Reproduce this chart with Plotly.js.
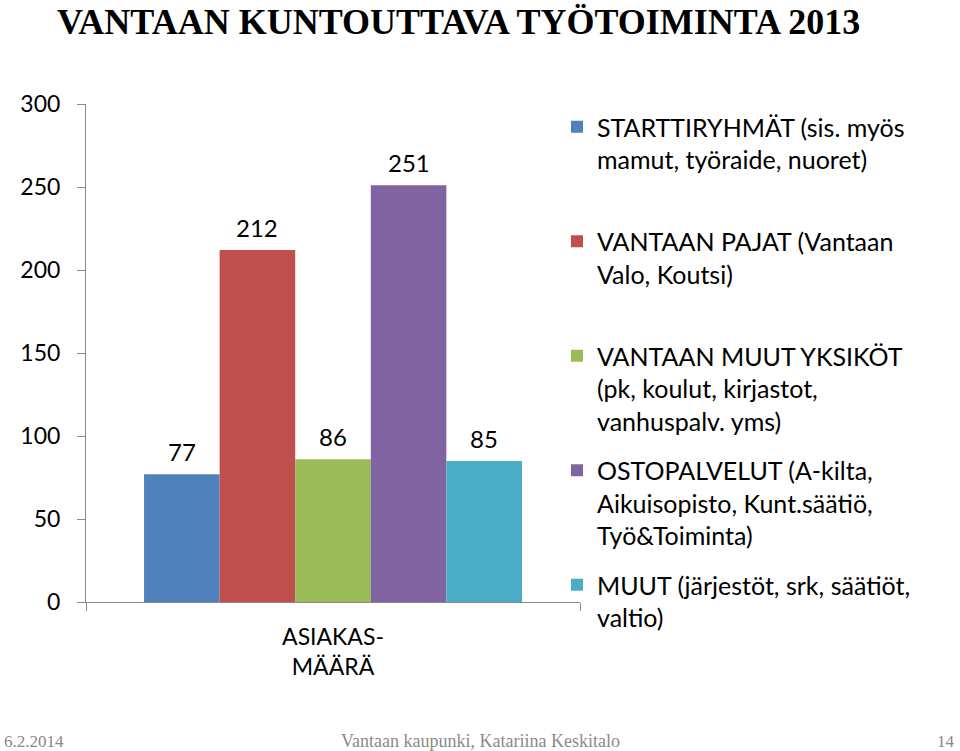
<!DOCTYPE html>
<html>
<head>
<meta charset="utf-8">
<script src="https://cdn.plot.ly/plotly-3.0.1.min.js"></script>
<style>html,body{margin:0;padding:0;background:#fff;}#chart{width:960px;height:751px;}</style>
</head>
<body>
<div id="chart"></div>
<script>
const categories = ["ASIAKAS-<br>MÄÄRÄ"];
const seriesNames = [
  "STARTTIRYHMÄT (sis. myös<br>mamut, työraide, nuoret)<br> ",
  "VANTAAN PAJAT (Vantaan<br>Valo, Koutsi)<br> ",
  "VANTAAN MUUT YKSIKÖT<br>(pk, koulut, kirjastot,<br>vanhuspalv. yms)",
  "OSTOPALVELUT (A-kilta,<br>Aikuisopisto, Kunt.säätiö,<br>Työ&Toiminta)",
  "MUUT (järjestöt, srk, säätiöt,<br>valtio)"
];
const seriesValues = [[77], [212], [86], [251], [85]];
const seriesColors = ["#4F81BD", "#C0504D", "#9BBB59", "#8064A2", "#4BACC6"];
const yTicks = [0, 50, 100, 150, 200, 250, 300];

const FONT = "Lato, 'Noto Sans', sans-serif";
const L = 86, R = 580, T = 104, B = 602;
const px = x => (x - L) / (R - L);
const py = y => (B - y) / (B - T);
const BARGAP = 0.235;
const nSeries = seriesNames.length;
const barW = (1 - BARGAP) / nSeries;

const traces = seriesNames.map((n, i) => ({
  type: "bar",
  name: n,
  x: categories,
  y: seriesValues[i],
  marker: {color: seriesColors[i]},
  legendgroup: "g" + i,
  hoverinfo: "none"
}));

// value labels above bars, placed through the axes from the data arrays
const labelAnns = [];
seriesValues.forEach((vals, i) => {
  vals.forEach((v, j) => {
    labelAnns.push({
      text: String(v), xref: "x", yref: "y",
      x: j + (i - (nSeries - 1) / 2) * barW, y: v,
      xanchor: "center", yanchor: "bottom", yshift: 6, showarrow: false,
      font: {family: FONT, size: 24, color: "#000"}
    });
  });
});

const layout = {
  width: 960, height: 751,
  margin: {l: L, r: 960 - R, t: T, b: 751 - B},
  paper_bgcolor: "#fff", plot_bgcolor: "#fff",
  barmode: "group", bargap: BARGAP, bargroupgap: 0,
  font: {family: FONT, color: "#000"},
  showlegend: true,
  legend: {
    x: px(557), xanchor: "left", y: py(104), yanchor: "top",
    font: {family: FONT, size: 25, color: "#000"},
    traceorder: "grouped", tracegroupgap: 14, valign: "top",
    maxheight: 700,
    bgcolor: "rgba(0,0,0,0)"
  },
  xaxis: {
    type: "category",
    showline: true, linecolor: "#888", linewidth: 1,
    ticks: "outside", tickson: "boundaries", ticklen: 8, tickcolor: "#888",
    ticklabelstandoff: 14,
    tickfont: {family: FONT, size: 23, color: "#000"},
    showgrid: false, zeroline: false, fixedrange: true
  },
  yaxis: {
    range: [0, 300], tickvals: yTicks, ticktext: yTicks.map(String),
    showline: true, linecolor: "#888", linewidth: 1,
    ticks: "outside", ticklen: 8, tickcolor: "#888",
    ticklabelstandoff: 12,
    tickfont: {family: FONT, size: 23, color: "#000"},
    showgrid: false, zeroline: false, fixedrange: true
  },
  annotations: labelAnns.concat([
    {text: "<b>VANTAAN KUNTOUTTAVA TYÖTOIMINTA 2013</b>", xref: "paper", yref: "paper",
     x: px(55), y: py(22), xanchor: "left", yanchor: "middle", showarrow: false,
     font: {family: "'Liberation Serif', 'Times New Roman', serif", size: 36, color: "#000"}},
    {text: "6.2.2014", xref: "paper", yref: "paper", x: px(2), y: py(741),
     xanchor: "left", yanchor: "middle", showarrow: false,
     font: {family: "'Liberation Serif', serif", size: 17, color: "#8a8a8a"}},
    {text: "Vantaan kaupunki, Katariina Keskitalo", xref: "paper", yref: "paper", x: px(480), y: py(741),
     xanchor: "center", yanchor: "middle", showarrow: false,
     font: {family: "'Liberation Serif', serif", size: 18, color: "#8a8a8a"}},
    {text: "14", xref: "paper", yref: "paper", x: px(957), y: py(741),
     xanchor: "right", yanchor: "middle", showarrow: false,
     font: {family: "'Liberation Serif', serif", size: 17, color: "#8a8a8a"}}
  ])
};

Plotly.newPlot("chart", traces, layout, {displayModeBar: false, staticPlot: true});
</script>
</body>
</html>
